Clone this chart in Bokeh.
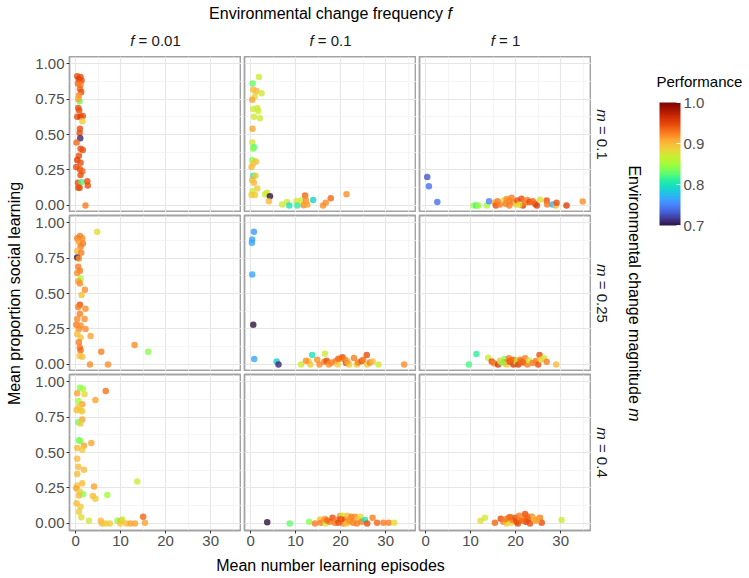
import math
from bokeh.plotting import figure
from bokeh.models import (Range1d, FixedTicker, LinearColorMapper, ColorBar,
                          PrintfTickFormatter, ColumnDataSource, Label)
from bokeh.layouts import row, column
from bokeh.palettes import Turbo256
from bokeh.embed import file_html
from bokeh.resources import INLINE

# ---------------- data ----------------
freq_labels = ["0.01", "0.1", "1"]
mag_labels = ["0.1", "0.25", "0.4"]
x_ticks = [0, 10, 20, 30]
x_minor = [5, 15, 25, 35]
y_ticks = [0.0, 0.25, 0.5, 0.75, 1.0]
y_minor = [0.125, 0.375, 0.625, 0.875]
perf_ticks = [0.7, 0.8, 0.9, 1.0]

# f = 0.01, m = 0.1
x_f001_m01 = [0.37, 1.1, 0.74, 1.33, 0.52, 1.1, 0.96, 1.26, 0.74, 0.9, 0.6, 0.6, 0.37, 1.1, 1.6, 1.5, 0.96, 0.9, 1.04, 0.22,
              1.1, 1.6, 0.74, 0.37, 1.1, 0.15, 0.96, 1.5, 1.1, 0.52, 1.33, 0.9, 2.6, 2.7, 2.2, 0.6, 0.8]
y_f001_m01 = [0.91, 0.905, 0.89, 0.88, 0.86, 0.85, 0.82, 0.80, 0.775, 0.735, 0.75, 0.686, 0.626, 0.626, 0.63, 0.593, 0.54, 0.51, 0.473, 0.444,
              0.40, 0.39, 0.35, 0.32, 0.30, 0.27, 0.255, 0.24, 0.215, 0.16, 0.165, 0.125, 0.17, 0.14, 0.0, 0.125, 0.67]
p_f001_m01 = [0.945, 0.945, 0.955, 0.945, 0.935, 0.925, 0.935, 0.945, 0.92, 0.83, 0.91, 0.945, 0.945, 0.955, 0.945, 0.89, 0.945, 0.945, 0.71, 0.935,
              0.945, 0.945, 0.945, 0.955, 0.945, 0.945, 0.945, 0.935, 0.945, 0.945, 0.82, 0.945, 0.945, 0.945, 0.925, 0.945, 0.945]

# f = 0.1, m = 0.1
x_f01_m01 = [1.85, 0.44, 0.6, 1.33, 2.44, 0.96, 0.37, 0.6, 1.48, 1.7, 0.74, 2.07, 0.44, 0.37, 0.74, 0.6, 0.37, 1.18, 0.6, 0.22,
             0.6, 1.1, 0.37, 0.74, 1.48, 0.44, 0.22, 0.96, 3.2, 3.7, 4.3, 4.07, 7.0, 8.1, 8.6, 10.2, 10.4, 11.2, 12.1, 12.3,
             11.8, 12.6, 13.9, 16.1, 16.7, 17.8, 21.3]
y_f01_m01 = [0.905, 0.86, 0.815, 0.806, 0.79, 0.77, 0.745, 0.68, 0.686, 0.665, 0.626, 0.615, 0.54, 0.444, 0.41, 0.40, 0.32, 0.31, 0.295, 0.27,
             0.21, 0.21, 0.18, 0.16, 0.12, 0.10, 0.073, 0.073, 0.078, 0.09, 0.064, 0.03, 0.007, 0.024, 0.0, 0.03, 0.0, 0.035, 0.07, 0.035,
             0.002, 0.007, 0.038, 0.0, 0.019, 0.05, 0.078]
p_f01_m01 = [0.87, 0.83, 0.9, 0.9, 0.87, 0.88, 0.91, 0.87, 0.87, 0.87, 0.87, 0.87, 0.91, 0.87, 0.82, 0.84, 0.84, 0.90, 0.89, 0.90,
             0.81, 0.89, 0.90, 0.90, 0.89, 0.87, 0.89, 0.89, 0.87, 0.87, 0.70, 0.90, 0.87, 0.87, 0.80, 0.87, 0.81, 0.87, 0.935, 0.92,
             0.92, 0.91, 0.79, 0.92, 0.92, 0.935, 0.92]

# f = 1, m = 0.1
x_f1_m01 = [0.37, 0.74, 2.6, 10.7, 11.3, 11.7, 13.6, 14.1, 15.4, 15.6, 16.5, 17.4, 17.8, 18.5, 18.6, 19.1, 19.5, 20.1, 20.4, 21.3,
            21.6, 22.1, 22.6, 23.1, 24.3, 24.7, 25.4, 26.9, 27.0, 28.2, 28.9, 29.1, 31.3, 34.9, 16.0, 20.8, 18.0, 23.8]
y_f1_m01 = [0.20, 0.135, 0.024, 0.0, 0.0, 0.0, 0.0, 0.03, 0.02, 0.0, 0.007, 0.035, 0.012, 0.035, 0.0, 0.054, 0.02, 0.007, 0.035, 0.047,
            0.0, 0.019, 0.038, 0.024, 0.012, 0.0, 0.04, 0.035, 0.007, 0.007, 0.0, 0.019, 0.0, 0.028, 0.03, 0.005, 0.045, 0.03]
p_f1_m01 = [0.73, 0.74, 0.74, 0.85, 0.81, 0.85, 0.85, 0.75, 0.91, 0.945, 0.925, 0.88, 0.925, 0.925, 0.925, 0.925, 0.925, 0.88, 0.945, 0.945,
            0.955, 0.925, 0.925, 0.945, 0.945, 0.955, 0.88, 0.945, 0.925, 0.77, 0.90, 0.945, 0.955, 0.92, 0.925, 0.88, 0.92, 0.935]

# f = 0.01, m = 0.25
x_f001_m025 = [4.8, 0.37, 0.96, 1.48, 0.74, 1.63, 1.1, 0.37, 1.26, 0.37, 0.74, 0.6, 0.96, 0.37, 1.1, 0.6, 0.96, 2.07, 1.33, 0.96,
               0.6, 2.2, 0.96, 0.37, 2.0, 0.15, 1.1, 0.74, 2.2, 0.37, 1.1, 0.74, 3.33, 0.96, 1.1, 0.9, 1.5, 3.2, 5.7, 7.2,
               13.1, 16.1]
y_f001_m025 = [0.936, 0.89, 0.905, 0.89, 0.865, 0.853, 0.83, 0.80, 0.787, 0.754, 0.747, 0.688, 0.66, 0.645, 0.605, 0.586, 0.57, 0.527, 0.49, 0.42,
               0.404, 0.392, 0.357, 0.32, 0.32, 0.28, 0.274, 0.25, 0.25, 0.215, 0.19, 0.156, 0.20, 0.12, 0.10, 0.06, 0.054, 0.0, 0.09, 0.0,
               0.137, 0.09]
p_f001_m025 = [0.88, 0.925, 0.925, 0.92, 0.91, 0.925, 0.925, 0.90, 0.925, 0.70, 0.92, 0.925, 0.925, 0.92, 0.85, 0.91, 0.92, 0.92, 0.895, 0.945,
               0.925, 0.92, 0.925, 0.92, 0.92, 0.925, 0.92, 0.92, 0.92, 0.90, 0.895, 0.925, 0.91, 0.925, 0.935, 0.895, 0.895, 0.92, 0.925, 0.92,
               0.92, 0.84]

# f = 0.1, m = 0.25
x_f01_m025 = [0.74, 0.37, 0.3, 0.37, 0.6, 0.81, 5.8, 6.2, 11.2, 12.9, 13.3, 13.7, 14.8, 15.3, 16.5, 16.4, 16.9, 17.4, 18.0, 18.96,
              19.3, 19.9, 20.4, 21.0, 21.2, 21.9, 22.96, 23.6, 23.9, 24.7, 25.0, 25.8, 25.9, 26.5, 27.1, 28.4, 34.1, 12.3, 19.5, 21.5]
y_f01_m025 = [0.936, 0.88, 0.858, 0.634, 0.28, 0.038, 0.021, 0.0, 0.0, 0.02, 0.0, 0.066, 0.033, 0.0, 0.076, 0.019, 0.026, 0.0, 0.014, 0.024,
              0.0, 0.038, 0.05, 0.033, 0.01, 0.0, 0.045, 0.0, 0.014, 0.024, 0.033, 0.066, 0.0, 0.014, 0.021, 0.0, 0.0, 0.026, 0.04, 0.02]
p_f01_m025 = [0.76, 0.765, 0.765, 0.765, 0.70, 0.765, 0.785, 0.71, 0.87, 0.89, 0.89, 0.80, 0.92, 0.92, 0.87, 0.925, 0.945, 0.92, 0.925, 0.925,
              0.89, 0.88, 0.945, 0.925, 0.945, 0.89, 0.925, 0.89, 0.925, 0.945, 0.925, 0.945, 0.89, 0.925, 0.90, 0.87, 0.92, 0.92, 0.935, 0.91]

# f = 1, m = 0.25
x_f1_m025 = [11.3, 9.6, 13.9, 14.7, 15.2, 16.1, 16.5, 17.5, 17.6, 18.0, 18.5, 18.7, 19.5, 19.6, 20.2, 20.6, 21.0, 21.7, 22.1, 22.6,
             23.0, 24.5, 25.0, 25.3, 25.6, 26.3, 26.9, 29.0, 16.9, 19.0, 21.3, 23.8]
y_f1_m025 = [0.073, 0.0, 0.047, 0.021, 0.009, 0.0, 0.026, 0.038, 0.014, 0.0, 0.043, 0.019, 0.0, 0.033, 0.019, 0.0, 0.033, 0.014, 0.043, 0.0,
             0.028, 0.024, 0.0, 0.066, 0.033, 0.043, 0.019, 0.0, 0.014, 0.03, 0.02, 0.01]
p_f1_m025 = [0.81, 0.82, 0.87, 0.945, 0.925, 0.955, 0.89, 0.84, 0.925, 0.89, 0.925, 0.945, 0.955, 0.925, 0.86, 0.955, 0.925, 0.945, 0.925, 0.925,
             0.87, 0.925, 0.945, 0.945, 0.89, 0.87, 0.925, 0.90, 0.84, 0.935, 0.935, 0.925]

# f = 0.01, m = 0.4
x_f001_m04 = [0.96, 1.63, 0.37, 2.0, 6.7, 4.4, 0.6, 1.48, 0.74, 0.22, 1.1, 1.48, 1.48, 0.6, 1.1, 0.74, 1.1, 3.5, 0.37, 1.85,
              1.48, 0.37, 0.6, 1.85, 0.37, 13.7, 1.48, 0.37, 4.1, 0.15, 0.9, 1.7, 0.74, 3.85, 4.4, 7.04, 0.22, 1.1, 0.74, 1.26,
              2.96, 5.6, 5.9, 6.7, 7.6, 9.3, 10.1, 10.4, 9.9, 11.3, 12.2, 13.2, 15.0, 15.4]
y_f001_m04 = [0.957, 0.95, 0.917, 0.91, 0.934, 0.87, 0.863, 0.84, 0.823, 0.80, 0.797, 0.79, 0.733, 0.714, 0.705, 0.586, 0.579, 0.567, 0.532, 0.548,
              0.52, 0.456, 0.40, 0.378, 0.348, 0.296, 0.284, 0.267, 0.26, 0.248, 0.225, 0.206, 0.196, 0.194, 0.173, 0.20, 0.142, 0.118, 0.083, 0.043,
              0.019, 0.019, 0.0, 0.0, 0.0, 0.019, 0.019, 0.028, 0.0, 0.0, 0.0, 0.0, 0.047, 0.005]
p_f001_m04 = [0.84, 0.85, 0.91, 0.88, 0.93, 0.91, 0.85, 0.91, 0.89, 0.90, 0.89, 0.89, 0.91, 0.83, 0.89, 0.83, 0.84, 0.91, 0.90, 0.91,
              0.89, 0.90, 0.90, 0.90, 0.90, 0.87, 0.90, 0.89, 0.91, 0.91, 0.89, 0.84, 0.90, 0.90, 0.89, 0.85, 0.90, 0.89, 0.89, 0.88,
              0.87, 0.90, 0.90, 0.89, 0.89, 0.84, 0.91, 0.87, 0.89, 0.90, 0.91, 0.91, 0.935, 0.91]

# f = 0.1, m = 0.4
x_f01_m04 = [3.7, 8.7, 13.0, 14.3, 15.4, 15.6, 16.5, 16.7, 17.6, 18.2, 18.7, 19.1, 19.9, 20.4, 20.6, 21.0, 21.5, 21.7, 22.1, 22.4,
             22.8, 23.2, 23.9, 24.4, 24.7, 25.4, 25.9, 27.1, 28.1, 29.5, 30.7, 31.9, 19.5, 21.3, 23.6, 17.0, 20.0, 22.0]
y_f01_m04 = [0.009, 0.0, 0.012, 0.0, 0.028, 0.005, 0.031, 0.0, 0.012, 0.04, 0.005, 0.024, 0.052, 0.054, 0.0, 0.028, 0.054, 0.012, 0.031, 0.047,
             0.005, 0.047, 0.028, 0.047, 0.012, 0.024, 0.0, 0.04, 0.005, 0.005, 0.005, 0.005, 0.005, 0.0, 0.0, 0.02, 0.03, 0.02]
p_f01_m04 = [0.70, 0.83, 0.84, 0.925, 0.895, 0.925, 0.92, 0.87, 0.925, 0.945, 0.925, 0.925, 0.92, 0.87, 0.925, 0.945, 0.895, 0.925, 0.89, 0.925,
             0.925, 0.92, 0.895, 0.88, 0.925, 0.80, 0.945, 0.925, 0.935, 0.925, 0.925, 0.88, 0.945, 0.895, 0.925, 0.935, 0.945, 0.92]

# f = 1, m = 0.4
x_f1_m04 = [12.2, 13.2, 15.4, 16.7, 17.3, 18.0, 18.4, 19.0, 19.3, 19.9, 20.2, 20.8, 21.0, 21.7, 22.1, 22.3, 22.8, 23.2, 23.6, 24.1,
            24.5, 25.4, 25.8, 30.2, 17.8, 18.8, 20.5, 21.5, 22.5, 24.8]
y_f1_m04 = [0.019, 0.04, 0.005, 0.033, 0.012, 0.0, 0.04, 0.005, 0.024, 0.04, 0.012, 0.054, 0.024, 0.035, 0.066, 0.012, 0.028, 0.0, 0.047, 0.035,
            0.019, 0.04, 0.005, 0.024, 0.03, 0.045, 0.0, 0.02, 0.05, 0.025]
p_f1_m04 = [0.88, 0.87, 0.935, 0.945, 0.925, 0.89, 0.925, 0.88, 0.925, 0.945, 0.945, 0.925, 0.925, 0.90, 0.945, 0.955, 0.945, 0.945, 0.925, 0.895,
            0.91, 0.925, 0.945, 0.87, 0.925, 0.935, 0.945, 0.935, 0.935, 0.91]

panel_data = [
    [(x_f001_m01, y_f001_m01, p_f001_m01), (x_f01_m01, y_f01_m01, p_f01_m01), (x_f1_m01, y_f1_m01, p_f1_m01)],
    [(x_f001_m025, y_f001_m025, p_f001_m025), (x_f01_m025, y_f01_m025, p_f01_m025), (x_f1_m025, y_f1_m025, p_f1_m025)],
    [(x_f001_m04, y_f001_m04, p_f001_m04), (x_f01_m04, y_f01_m04, p_f01_m04), (x_f1_m04, y_f1_m04, p_f1_m04)],
]

# ---------------- style / layout ----------------
FONT = "Liberation Sans"
TITLE_SIZE = 16
STRIP_SIZE = 15
TICK_SIZE = "15px"
FRAME_W, FRAME_H = 172, 156
GAP = 3
LEFT_TITLE_W = 30
LEFT_AXIS_W = 39
BOTTOM_AXIS_H = 24
TOP_H = 56
TOTAL_W, TOTAL_H = 749, 578
BASE_SHIFT = 5.5   # rendered alphabetic baseline sits this much lower than requested

mapper = LinearColorMapper(palette=Turbo256, low=0.7, high=1.0)

CW = {' ': .278, '=': .584, '.': .278, 'a': .556, 'b': .556, 'c': .5, 'd': .556, 'e': .556, 'f': .278,
      'g': .556, 'h': .556, 'i': .222, 'l': .222, 'm': .833, 'n': .556, 'o': .556, 'p': .556, 'q': .556,
      'r': .333, 's': .5, 't': .278, 'u': .556, 'v': .5, 'y': .5, 'E': .667, 'M': .833, 'P': .667}


def tw(s, size):
    return sum(CW.get(ch, .556) for ch in s) * size


def make_panel(r, c, xs, ys, ps):
    left = LEFT_AXIS_W if c == 0 else GAP
    top = 0 if r == 0 else GAP
    bottom = BOTTOM_AXIS_H if r == 2 else 0
    p = figure(width=left + FRAME_W, height=top + FRAME_H + bottom,
               x_range=Range1d(-1.35, 36.85), y_range=Range1d(-0.05, 1.05),
               x_axis_location="below" if r == 2 else None,
               y_axis_location="left" if c == 0 else None,
               toolbar_location=None, output_backend="svg",
               min_border_left=left, min_border_right=0,
               min_border_top=top, min_border_bottom=bottom)
    p.xgrid.ticker = FixedTicker(ticks=x_ticks, minor_ticks=x_minor)
    p.ygrid.ticker = FixedTicker(ticks=y_ticks, minor_ticks=y_minor)
    for g in (p.xgrid, p.ygrid):
        g.grid_line_color = "#e6e6e6"
        g.grid_line_width = 1.1
        g.minor_grid_line_color = "#f1f1f1"
        g.minor_grid_line_width = 0.7
    p.xaxis.ticker = FixedTicker(ticks=x_ticks)
    p.yaxis.ticker = FixedTicker(ticks=y_ticks)
    p.xaxis.formatter = PrintfTickFormatter(format="%d")
    p.yaxis.formatter = PrintfTickFormatter(format="%.2f")
    for ax in p.axis:
        ax.axis_line_color = None
        ax.major_tick_in = 0
        ax.major_tick_out = 3
        ax.minor_tick_in = 0
        ax.minor_tick_out = 0
        ax.major_tick_line_color = "#333333"
        ax.major_label_text_font = FONT
        ax.major_label_text_font_size = TICK_SIZE
        ax.major_label_text_color = "#4d4d4d"
        ax.major_label_standoff = 2
    p.outline_line_color = "#a3a3a3"
    p.outline_line_width = 1.8
    p.background_fill_color = "white"
    p.border_fill_color = "white"
    src = ColumnDataSource(dict(x=xs, y=ys, perf=ps))
    p.scatter("x", "y", source=src, size=6.5,
              fill_color={"field": "perf", "transform": mapper},
              line_color=None, fill_alpha=0.8)
    return p


def blank(w, h):
    p = figure(width=w, height=h, x_range=Range1d(0, w), y_range=Range1d(0, h),
               toolbar_location=None, output_backend="svg", min_border=0,
               x_axis_location=None, y_axis_location=None)
    p.xgrid.visible = False
    p.ygrid.visible = False
    p.outline_line_color = None
    p.background_fill_color = "white"
    p.border_fill_color = "white"
    return p


def lab(p, x, y, text, size, style="normal", align="left", baseline="alphabetic", angle=0.0, color="#1a1a1a"):
    p.add_layout(Label(x=x, y=y, text=text, text_font=FONT, text_font_size=f"{size}px",
                       text_font_style=style, text_align=align, text_baseline=baseline,
                       angle=angle, text_color=color))


mid_h = FRAME_H + (GAP + FRAME_H) + (GAP + FRAME_H + BOTTOM_AXIS_H)
panels_left = LEFT_TITLE_W + LEFT_AXIS_W
panels_right = panels_left + 3 * FRAME_W + 2 * GAP
cx_all = (panels_left + panels_right) / 2
col_centers = [panels_left + FRAME_W / 2 + c * (FRAME_W + GAP) for c in range(3)]

# top strip (targets given as page pixels from the top)
top = blank(TOTAL_W, TOP_H)
t1, t2 = "Environmental change frequency", "f"
tot = tw(t1, TITLE_SIZE) + tw(" ", TITLE_SIZE) + tw(t2, TITLE_SIZE)
x0 = cx_all - tot / 2
ybase = TOP_H - (18.3 - BASE_SHIFT)
lab(top, x0, ybase, t1, TITLE_SIZE, color="black")
lab(top, x0 + tw(t1 + " ", TITLE_SIZE), ybase, t2, TITLE_SIZE, style="italic", color="black")
ybase = TOP_H - (45.0 - BASE_SHIFT)
for c in range(3):
    rest = "= " + freq_labels[c]
    tot = tw("f ", STRIP_SIZE) + tw(rest, STRIP_SIZE)
    x0 = col_centers[c] - tot / 2
    lab(top, x0, ybase, "f", STRIP_SIZE, style="italic")
    lab(top, x0 + tw("f ", STRIP_SIZE), ybase, rest, STRIP_SIZE)

# left title
left = blank(LEFT_TITLE_W, mid_h)
panels_mid_y = mid_h - (3 * FRAME_H + 2 * GAP) / 2
lab(left, 14, panels_mid_y, "Mean proportion social learning", TITLE_SIZE,
    align="center", baseline="middle", angle=math.pi / 2, color="black")

# right side: strips, title, colour bar
RW = TOTAL_W - panels_right
right = blank(RW, mid_h)
row_centers = [mid_h - (FRAME_H / 2 + r * (FRAME_H + GAP)) for r in range(3)]
for r in range(3):
    rest = "= " + mag_labels[r]
    tot = tw("m ", STRIP_SIZE) + tw(rest, STRIP_SIZE)
    ytop = row_centers[r] + tot / 2
    lab(right, 11, ytop, "m", STRIP_SIZE, style="italic", baseline="middle", angle=-math.pi / 2)
    lab(right, 11, ytop - tw("m ", STRIP_SIZE), rest, STRIP_SIZE, baseline="middle", angle=-math.pi / 2)
t1, t2 = "Environmental change magnitude", "m"
tot = tw(t1 + " ", TITLE_SIZE) + tw(t2, TITLE_SIZE)
ytop = panels_mid_y + tot / 2
lab(right, 43, ytop, t1, TITLE_SIZE, baseline="middle", angle=-math.pi / 2, color="black")
lab(right, 43, ytop - tw(t1 + " ", TITLE_SIZE), t2, TITLE_SIZE, style="italic", baseline="middle",
    angle=-math.pi / 2, color="black")

# colour bar (page coordinates converted into the right-hand figure)
lab(right, 656 - panels_right, mid_h - ((86 - BASE_SHIFT) - TOP_H), "Performance", 15, color="black")
cb = ColorBar(color_mapper=mapper, orientation="vertical",
              location=(659 - panels_right, mid_h - (225 - TOP_H)),
              width=21, height=123, padding=0, margin=0,
              ticker=FixedTicker(ticks=perf_ticks), formatter=PrintfTickFormatter(format="%.1f"),
              major_label_text_font=FONT, major_label_text_font_size=TICK_SIZE,
              major_label_text_color="#4d4d4d", label_standoff=3,
              major_tick_line_color="white", major_tick_in=4, major_tick_out=0,
              minor_tick_line_color=None, bar_line_color=None, border_line_color=None,
              background_fill_alpha=0)
right.add_layout(cb, "center")

# bottom title
BH = TOTAL_H - TOP_H - mid_h
bottom = blank(TOTAL_W, BH)
lab(bottom, cx_all, TOTAL_H - (570.5 - BASE_SHIFT), "Mean number learning episodes", TITLE_SIZE,
    align="center", baseline="alphabetic", color="black")

grid_rows = [row(*[make_panel(r, c, *panel_data[r][c]) for c in range(3)]) for r in range(3)]
layout = column(top, row(left, column(*grid_rows), right), bottom)

open("out.html", "w").write(file_html(layout, INLINE))
